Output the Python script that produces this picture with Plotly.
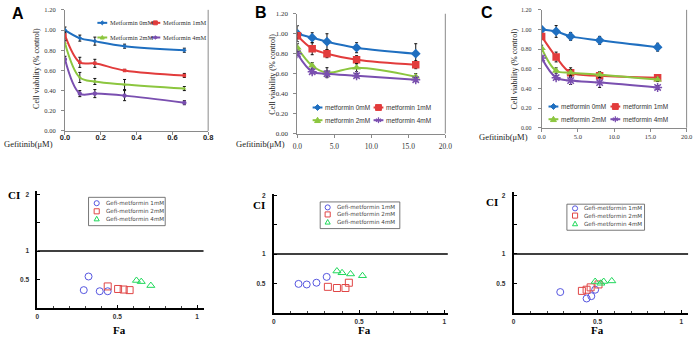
import plotly.graph_objects as go

W, H = 700, 340

# ---------------- data ----------------
gef_A = [0, 0.083, 0.167, 0.333, 0.667]
gef_BC = [0, 2, 4, 8, 16]
series_A = ["Metformin 0mM", "Metformin 1mM", "Metformin 2mM", "Metformin 4mM"]
series_BC = ["metformin 0mM", "metformin 1mM", "metformin 2mM", "metformin 4mM"]

A_0mM = [1.00, 0.92, 0.89, 0.84, 0.80]
A_1mM = [0.95, 0.68, 0.67, 0.60, 0.55]
A_2mM = [0.87, 0.53, 0.49, 0.46, 0.42]
A_4mM = [0.71, 0.37, 0.37, 0.35, 0.28]
A_0mM_err = [0.03, 0.03, 0.04, 0.02, 0.02]
A_1mM_err = [0.03, 0.05, 0.04, 0.01, 0.02]
A_2mM_err = [0.03, 0.05, 0.03, 0.05, 0.02]
A_4mM_err = [0.03, 0.03, 0.04, 0.05, 0.02]

B_0mM = [1.00, 0.96, 0.92, 0.86, 0.80]
B_1mM = [0.98, 0.85, 0.80, 0.74, 0.69]
B_2mM = [0.86, 0.68, 0.61, 0.66, 0.57]
B_4mM = [0.80, 0.62, 0.60, 0.58, 0.54]
B_0mM_err = [0.08, 0.05, 0.08, 0.05, 0.10]
B_1mM_err = [0.03, 0.06, 0.04, 0.04, 0.04]
B_2mM_err = [0.04, 0.03, 0.05, 0.04, 0.03]
B_4mM_err = [0.02, 0.02, 0.03, 0.02, 0.02]

C_0mM = [1.00, 0.98, 0.93, 0.89, 0.82]
C_1mM = [0.93, 0.72, 0.56, 0.53, 0.51]
C_2mM = [0.81, 0.58, 0.56, 0.54, 0.49]
C_4mM = [0.71, 0.51, 0.48, 0.46, 0.41]
C_0mM_err = [0.02, 0.06, 0.04, 0.04, 0.04]
C_1mM_err = [0.02, 0.05, 0.05, 0.03, 0.02]
C_2mM_err = [0.03, 0.03, 0.03, 0.03, 0.02]
C_4mM_err = [0.02, 0.02, 0.04, 0.05, 0.02]

ci_series = ["Gefi-metformin 1mM", "Gefi-metformin 2mM", "Gefi-metformin 4mM"]
A_fa_1mM = [0.29, 0.32, 0.39, 0.44]
A_ci_1mM = [0.31, 0.55, 0.29, 0.29]
A_fa_2mM = [0.44, 0.505, 0.54, 0.577]
A_ci_2mM = [0.375, 0.33, 0.32, 0.31]
A_fa_4mM = [0.62, 0.65, 0.71]
A_ci_4mM = [0.48, 0.46, 0.39]

B_fa_1mM = [0.145, 0.193, 0.25, 0.31]
B_ci_1mM = [0.49, 0.48, 0.51, 0.61]
B_fa_2mM = [0.317, 0.37, 0.42, 0.44]
B_ci_2mM = [0.44, 0.42, 0.42, 0.51]
B_fa_4mM = [0.37, 0.40, 0.45, 0.52]
B_ci_4mM = [0.71, 0.68, 0.66, 0.63]

C_fa_1mM = [0.278, 0.435, 0.463, 0.486]
C_ci_1mM = [0.35, 0.24, 0.28, 0.39]
C_fa_2mM = [0.407, 0.435, 0.459, 0.506]
C_ci_2mM = [0.37, 0.39, 0.43, 0.48]
C_fa_4mM = [0.486, 0.52, 0.537, 0.585]
C_ci_4mM = [0.53, 0.50, 0.53, 0.54]

# ---------------- styles ----------------
line_colors = ["#1f6fc0", "#e23c3c", "#8cc63f", "#7a4fb0"]
line_symbols = ["diamond", "square", "triangle-up", "asterisk-open"]
ci_colors = ["#5656e0", "#e04646", "#1fd85a"]
ci_symbols = ["circle-open", "square-open", "triangle-up-open"]
SERIF = "Liberation Serif"
SANS = "Liberation Sans"


def px(x):
    return x / W


def py(y):
    return 1 - y / H


fig = go.Figure()

top_sets = [
    ("x", "y", gef_A, [A_0mM, A_1mM, A_2mM, A_4mM], [A_0mM_err, A_1mM_err, A_2mM_err, A_4mM_err], 3.5),
    ("x2", "y2", gef_BC, [B_0mM, B_1mM, B_2mM, B_4mM], [B_0mM_err, B_1mM_err, B_2mM_err, B_4mM_err], 7.5),
    ("x3", "y3", gef_BC, [C_0mM, C_1mM, C_2mM, C_4mM], [C_0mM_err, C_1mM_err, C_2mM_err, C_4mM_err], 7.5),
]
for xa, ya, xs, ys, errs, msize in top_sets:
    for i in range(4):
        fig.add_trace(go.Scatter(
            x=xs, y=ys[i], xaxis=xa, yaxis=ya, mode="lines+markers",
            line=dict(color=line_colors[i], width=2, shape="spline", smoothing=1.0),
            marker=dict(symbol=line_symbols[i], size=msize, color=line_colors[i],
                        line=dict(color=line_colors[i], width=1.5 if i == 3 else 0)),
            error_y=dict(type="data", array=errs[i], color="#111111", thickness=1, width=1.5),
            showlegend=False, hoverinfo="skip"))

bottom_sets = [
    ("x4", "y4", [A_fa_1mM, A_fa_2mM, A_fa_4mM], [A_ci_1mM, A_ci_2mM, A_ci_4mM]),
    ("x5", "y5", [B_fa_1mM, B_fa_2mM, B_fa_4mM], [B_ci_1mM, B_ci_2mM, B_ci_4mM]),
    ("x6", "y6", [C_fa_1mM, C_fa_2mM, C_fa_4mM], [C_ci_1mM, C_ci_2mM, C_ci_4mM]),
]
for xa, ya, fas, cis in bottom_sets:
    for i in range(3):
        fig.add_trace(go.Scatter(
            x=fas[i], y=cis[i], xaxis=xa, yaxis=ya, mode="markers",
            marker=dict(symbol=ci_symbols[i], size=7, color=ci_colors[i],
                        line=dict(color=ci_colors[i], width=1)),
            showlegend=False, hoverinfo="skip"))

# ---------------- axes ----------------
def top_axes(xdom, ydom, xrange_, dtick_x, xfmt, xfont, yfont, xstand, ystand):
    ax = dict(domain=[px(xdom[0]), px(xdom[1])], range=xrange_, dtick=dtick_x, tickformat=xfmt,
              showline=True, linecolor="#8a8a8a", linewidth=1, ticks="outside", ticklen=3,
              tickcolor="#8a8a8a", showgrid=False, zeroline=False, tickfont=xfont,
              ticklabelstandoff=xstand)
    ay = dict(domain=[py(ydom[0]), py(ydom[1])], range=[0, 1.2], dtick=0.2, tickformat=".2f",
              showline=True, linecolor="#8a8a8a", linewidth=1, ticks="outside", ticklen=3,
              tickcolor="#8a8a8a", showgrid=False, zeroline=False, tickfont=yfont,
              ticklabelstandoff=ystand)
    return ax, ay


axA = top_axes((61, 206.7), (130, 6), [0, 0.8], 0.2, ".1f",
               dict(family=SANS, size=7.5, color="#222", weight="bold"),
               dict(family=SERIF, size=6.5, color="#333"), -4, 4)
axB = top_axes((297.5, 448), (132.7, 10), [0, 20], 5, ".1f",
               dict(family=SERIF, size=7.5, color="#333"), dict(family=SERIF, size=7, color="#333"), 2, 4)
axC = top_axes((546, 693.5), (126.7, 6), [0, 20], 5, ".1f",
               dict(family=SERIF, size=6.5, color="#333"), dict(family=SERIF, size=6, color="#333"), -1, 5)


def bottom_axes(xdom, ydom, xr, yr):
    tf = dict(family=SANS, size=6.5, color="#333", weight="bold")
    ax = dict(domain=[px(xdom[0]), px(xdom[1])], range=xr, tickvals=[0, 0.5, 1], ticktext=["0", "0.5", "1"],
              showline=True, linecolor="black", linewidth=2, ticks="inside", ticklen=3, tickcolor="black",
              minor=dict(dtick=0.1, tick0=0, ticks="inside", ticklen=2, tickcolor="#444"),
              showgrid=False, zeroline=False, tickfont=tf, ticklabelstandoff=2)
    ay = dict(domain=[py(ydom[0]), py(ydom[1])], range=yr, tickvals=[0.5, 1, 2], ticktext=["0.5", "1", "2"],
              showline=True, linecolor="black", linewidth=2, ticks="inside", ticklen=3, tickcolor="black",
              minor=dict(tickvals=[1.5], ticks="inside", ticklen=3, tickcolor="black"),
              showgrid=False, zeroline=False, tickfont=tf, ticklabelstandoff=5)
    return ax, ay


axD = bottom_axes((33, 202), (311, 192), [0, 1.04], [0, 2.05])
axE = bottom_axes((273.5, 450.5), (316, 195), [0, 1.02], [0, 2.02])
axF = bottom_axes((517.5, 695), (316, 193), [0, 1.04], [0, 2.05])

layout_axes = {}
for k, (ax, ay) in enumerate([axA, axB, axC, axD, axE, axF], start=1):
    sx = "" if k == 1 else str(k)
    ax["anchor"] = "y" + sx
    ay["anchor"] = "x" + sx
    layout_axes["xaxis" + sx] = ax
    layout_axes["yaxis" + sx] = ay

shapes = []
annotations = []

# right borders of the top plot areas
for sx in ["", "2", "3"]:
    shapes.append(dict(type="line", xref="x" + sx + " domain", yref="y" + sx + " domain",
                       x0=1, x1=1, y0=0, y1=1, line=dict(color="#8a8a8a", width=1)))
# CI = 1 reference lines
for sx in ["4", "5", "6"]:
    shapes.append(dict(type="line", xref="x" + sx + " domain", yref="y" + sx,
                       x0=0, x1=1, y0=1, y1=1, line=dict(color="black", width=1.6)))


def text(x, y, s, size, family, color="#222", anchor="left", angle=0, bold=False):
    annotations.append(dict(x=px(x), y=py(y), xref="paper", yref="paper", text=("<b>%s</b>" % s) if bold else s,
                            showarrow=False, xanchor=anchor, yanchor="middle", textangle=angle,
                            font=dict(family=family, size=size, color=color)))


def marker_shape(kind, cx, cy, r, color, filled=True, lw=1):
    fill = color if filled else "rgba(0,0,0,0)"
    if kind == "diamond":
        pts = [(cx, cy - r), (cx + r, cy), (cx, cy + r), (cx - r, cy)]
    elif kind == "square":
        pts = [(cx - r, cy - r), (cx + r, cy - r), (cx + r, cy + r), (cx - r, cy + r)]
    elif kind == "triangle":
        pts = [(cx, cy - r), (cx + r, cy + r * 0.8), (cx - r, cy + r * 0.8)]
    elif kind == "circle":
        shapes.append(dict(type="circle", xref="paper", yref="paper", x0=px(cx - r), x1=px(cx + r),
                           y0=py(cy + r), y1=py(cy - r), line=dict(color=color, width=lw), fillcolor=fill))
        return
    else:  # asterisk
        for (dx, dy) in [(0, r), (r * 0.87, r * 0.5), (r * 0.87, -r * 0.5)]:
            shapes.append(dict(type="line", xref="paper", yref="paper", x0=px(cx - dx), x1=px(cx + dx),
                               y0=py(cy - dy), y1=py(cy + dy), line=dict(color=color, width=1.2)))
        return
    path = "M " + " L ".join("%.5f,%.5f" % (px(a), py(b)) for a, b in pts) + " Z"
    shapes.append(dict(type="path", xref="paper", yref="paper", path=path,
                       line=dict(color=color, width=lw), fillcolor=fill))


kinds = ["diamond", "square", "triangle", "asterisk"]


def top_legend(names, rows, cols, line_w, msize, size, family):
    for i in range(4):
        r, c = divmod(i, 2)
        y = rows[r]
        x0 = cols[c]
        shapes.append(dict(type="line", xref="paper", yref="paper", x0=px(x0), x1=px(x0 + line_w),
                           y0=py(y), y1=py(y), line=dict(color=line_colors[i], width=2)))
        marker_shape(kinds[i], x0 + line_w / 2, y, msize, line_colors[i])
        text(x0 + line_w + 1, y, names[i], size, family, color="#333")


top_legend(series_A, [19.3, 34.3], [94, 148], 10, 2.0, 6.4, SERIF)
top_legend(series_BC, [106, 119], [313, 375], 10, 3, 6.5, SANS)
top_legend(series_BC, [105, 118], [553, 616], 10, 3, 6.5, SANS)


def ci_legend(box, rows, mx, tx):
    shapes.append(dict(type="rect", xref="paper", yref="paper", x0=px(box[0]), x1=px(box[2]),
                       y0=py(box[3]), y1=py(box[1]), line=dict(color="#555", width=0.8)))
    for i, k in enumerate(["circle", "square", "triangle"]):
        marker_shape(k, mx, rows[i], 2.6, ci_colors[i], filled=False, lw=1)
        text(tx, rows[i], ci_series[i], 5.6, "DejaVu Sans", color="#444")


ci_legend((85, 198, 163, 227), [204, 212.3, 220], 93.3, 101)
ci_legend((320.7, 202.7, 401.7, 230), [208.3, 215.5, 223.3], 328.3, 335.5)
ci_legend((571.7, 205, 650.7, 231.7), [209.3, 216.7, 225], 580, 587.5)

# titles and labels
ytitle = "Cell viability (% control)"
text(32, 66, ytitle, 8, SERIF, anchor="center", angle=-90)
text(272, 72, ytitle, 8, SERIF, anchor="center", angle=-90)
text(518, 67, ytitle, 8, SERIF, anchor="center", angle=-90)
text(23.5, 143, "Gefitinib(μM)", 8.5, SERIF, anchor="center")
text(259.5, 143, "Gefitinib(μM)", 8.5, SERIF, anchor="center")
text(507.5, 136, "Gefitinib(μM)", 8.5, SERIF, anchor="center")
text(13.5, 10, "A", 16, SANS, color="black", anchor="center", bold=True)
text(260, 9, "B", 16, SANS, color="black", anchor="center", bold=True)
text(490, 9, "C", 16, SANS, color="black", anchor="center", bold=True)
for (cx, cy) in [(9, 196), (258.5, 205.5), (495, 203)]:
    text(cx, cy, "CI", 11, SERIF, color="black", anchor="center", bold=True)
for (fx, fy) in [(117, 334), (366, 334), (603, 334)]:
    text(fx, fy, "Fa", 11, SERIF, color="black", anchor="center", bold=True)

fig.update_layout(width=W, height=H, margin=dict(l=0, r=0, t=0, b=0),
                  paper_bgcolor="white", plot_bgcolor="white", showlegend=False,
                  shapes=shapes, annotations=annotations, **layout_axes)

fig.write_html("out.html", config={"displayModeBar": False},
               post_script="document.body.style.margin='0';")
